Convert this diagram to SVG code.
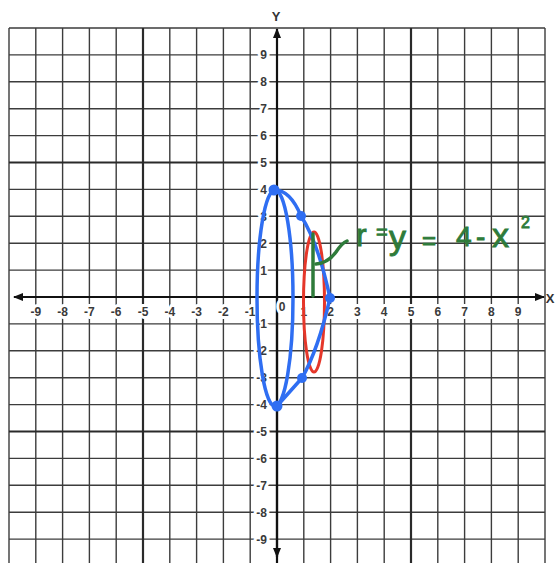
<svg xmlns="http://www.w3.org/2000/svg" width="556" height="563" viewBox="0 0 556 563">
  <defs>
    <style>
      .grid { stroke: #3c3c3c; stroke-width: 1.4; fill: none; }
      .gridthick { stroke: #2a2a2a; stroke-width: 2.2; fill: none; }
      .axis { stroke: #111; stroke-width: 2.2; fill: none; }
      .lbl { font-family: "Liberation Sans", Arial, sans-serif; font-size: 12px; font-weight: bold; fill: #3a3a3a; stroke: #fff; stroke-width: 6; paint-order: stroke; stroke-linejoin: round; }
      .xl { text-anchor: middle; }
      .yl { text-anchor: end; }
      .axname { font-family: "Liberation Sans", Arial, sans-serif; font-size: 13px; font-weight: bold; fill: #333; text-anchor: middle; }
      .blue { stroke: #2f6ef2; stroke-width: 3.5; fill: none; stroke-linecap: round; stroke-linejoin: round; }
      .red { stroke: #e5372a; stroke-width: 3; fill: none; }
      .green { stroke: #2e7b3a; stroke-width: 3.5; fill: none; stroke-linecap: round; }
      .hand { font-family: "Liberation Sans", "DejaVu Sans", sans-serif; fill: #2e7b3a; stroke: #2e7b3a; stroke-width: 0.9; }
    </style>
    <marker id="arr" viewBox="0 0 10 8" refX="9" refY="4" markerWidth="10" markerHeight="8" markerUnits="userSpaceOnUse" orient="auto">
      <path d="M0 0 L10 4 L0 8 Z" fill="#111"/>
    </marker>
  </defs>
  <rect width="556" height="563" fill="#fff"/>

  <g id="grid">
    <path class="grid" d="M9 28V563 M35.8 28V563 M62.6 28V563 M89.4 28V563 M116.2 28V563 M169.8 28V563 M196.6 28V563 M223.4 28V563 M250.2 28V563 M303.8 28V563 M330.6 28V563 M357.4 28V563 M384.2 28V563 M437.8 28V563 M464.6 28V563 M491.4 28V563 M518.2 28V563 M545 28V563"/>
    <path class="grid" d="M9 28H545 M9 54.9H545 M9 81.8H545 M9 108.7H545 M9 135.6H545 M9 189.4H545 M9 216.3H545 M9 243.2H545 M9 270.1H545 M9 323.9H545 M9 350.8H545 M9 377.7H545 M9 404.6H545 M9 458.4H545 M9 485.3H545 M9 512.2H545 M9 539.1H545"/>
    <path class="gridthick" d="M143 28V563 M411 28V563 M9 162.5H545 M9 431.5H545"/>
  </g>

  <g id="axes">
    <line class="axis" x1="277" y1="563" x2="277" y2="29" marker-end="url(#arr)"/>
    <line class="axis" x1="277" y1="297" x2="277" y2="557" marker-end="url(#arr)"/>
    <line class="axis" x1="277" y1="297" x2="544" y2="297" marker-end="url(#arr)"/>
    <line class="axis" x1="277" y1="297" x2="14" y2="297" marker-end="url(#arr)"/>
    <text class="axname" x="276" y="21">Y</text>
    <text class="axname" x="550" y="303">X</text>
  </g>

  <g id="x-labels" class="lbl xl">
    <text x="35.8" y="316">-9</text>
    <text x="62.6" y="316">-8</text>
    <text x="89.4" y="316">-7</text>
    <text x="116.2" y="316">-6</text>
    <text x="143" y="316">-5</text>
    <text x="169.8" y="316">-4</text>
    <text x="196.6" y="316">-3</text>
    <text x="223.4" y="316">-2</text>
    <text x="250.2" y="316">-1</text>
    <text x="282" y="311">0</text>
    <text x="303.8" y="316">1</text>
    <text x="330.6" y="316">2</text>
    <text x="357.4" y="316">3</text>
    <text x="384.2" y="316">4</text>
    <text x="411" y="316">5</text>
    <text x="437.8" y="316">6</text>
    <text x="464.6" y="316">7</text>
    <text x="491.4" y="316">8</text>
    <text x="518.2" y="316">9</text>
  </g>

  <g id="y-labels" class="lbl yl">
    <text x="267" y="59.4">9</text>
    <text x="267" y="86.3">8</text>
    <text x="267" y="113.2">7</text>
    <text x="267" y="140.1">6</text>
    <text x="267" y="167">5</text>
    <text x="267" y="193.9">4</text>
    <text x="267" y="220.8">3</text>
    <text x="267" y="247.7">2</text>
    <text x="267" y="274.6">1</text>
    <text x="267" y="328.4">-1</text>
    <text x="267" y="355.3">-2</text>
    <text x="267" y="382.2">-3</text>
    <text x="267" y="409.1">-4</text>
    <text x="267" y="436">-5</text>
    <text x="267" y="462.9">-6</text>
    <text x="267" y="489.8">-7</text>
    <text x="267" y="516.7">-8</text>
    <text x="267" y="543.6">-9</text>
  </g>

  <g id="red-ellipse">
    <ellipse class="red" cx="314" cy="302" rx="10.5" ry="70"/>
  </g>

  <g id="blue-solid">
    <ellipse class="blue" cx="275" cy="298" rx="18" ry="108"/>
    <path class="blue" d="M274 190 Q290 189.5 301 216 Q318 242 330 298 Q318 350 302 378 L277 406"/>
    <g fill="#2f6ef2">
      <circle cx="274" cy="190" r="5.5"/>
      <circle cx="301" cy="216" r="5"/>
      <circle cx="330" cy="298" r="5"/>
      <circle cx="302" cy="378" r="5"/>
      <circle cx="277" cy="406" r="5.5"/>
    </g>
  </g>

  <g id="annotation">
    <path class="green" d="M313 234 L313 296"/>
    <path class="green" d="M316 264 Q328 263 336 252 Q342 243 347 241"/>
    <text class="hand"><tspan x="356" y="246" font-size="32">r</tspan><tspan x="376" y="239" font-size="20">=</tspan><tspan x="389" y="249" font-size="34">y</tspan><tspan x="422" y="249" font-size="24">=</tspan><tspan x="456" y="246" font-size="28">4</tspan><tspan x="476" y="246" font-size="28">-</tspan><tspan x="492" y="247" font-size="34">x</tspan><tspan x="521" y="228" font-size="16">2</tspan></text>
  </g>
</svg>
